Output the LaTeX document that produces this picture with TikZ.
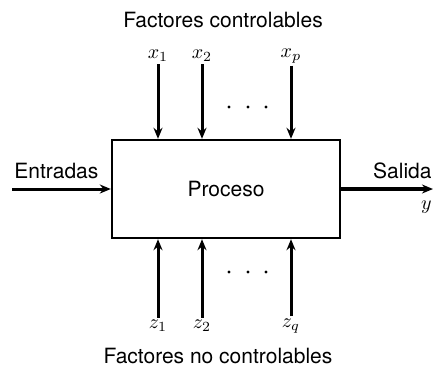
\documentclass[tikz,border=0pt]{standalone}
\usepackage{fontspec}
\setmainfont{TeX Gyre Heros}
\usetikzlibrary{arrows.meta, positioning, calc}

\tikzset{
  flecha/.style={-{Stealth[length=5.5pt, width=4.5pt]}, line width=1.5pt},
  etiq/.style={font=\fontsize{10.5}{12}\selectfont, inner sep=1pt},
  var/.style={inner sep=1pt, font=\normalsize},
  puntos/.style={fill=black}
}

\begin{document}
\begin{tikzpicture}[x=0.5pt, y=-0.5pt]
  \useasboundingbox (0,0) rectangle (435,366);

  % the process block
  \node[draw, line width=1.2pt, minimum width=114pt, minimum height=49pt,
        etiq] (proc) at (226,189) {Proceso};

  % controllable factors on top
  \node[etiq] (titsup) at (223,20) {Factores controlables};
  \foreach \n/\px/\lab in {x1/158/x_1, x2/202/x_2, xp/291/x_p}{
    \node[var] (\n) at (\px,56) {$\lab$};
    \draw[flecha] (\n.south) -- (\n.south |- proc.north);
  }
  \foreach \px in {229,248,266}
    \fill[puntos] (\px,107) circle (1.6);

  % uncontrollable factors below
  \node[etiq] (titinf) at (218,356) {Factores no controlables};
  \foreach \n/\px/\lab in {z1/158/z_1, z2/202/z_2, zq/291/z_q}{
    \node[var] (\n) at (\px,326) {$\lab$};
    \draw[flecha] (\n.north) -- (\n.north |- proc.south);
  }
  \foreach \px in {229,248,266}
    \fill[puntos] (\px,272) circle (1.6);

  % inputs and output
  \coordinate (ent) at (12,189);
  \coordinate (sal) at (433,189);
  \node[etiq, anchor=south west] (tent) at (12,181) {Entradas};
  \draw[flecha] (ent) -- (proc.west);
  \node[etiq, anchor=south east] (tsal) at (434,181) {Salida};
  \node[var, anchor=east] (ysal) at (434,207) {$y$};
  \draw[flecha, line width=2pt] (proc.east) -- (sal);
\end{tikzpicture}
\end{document}
